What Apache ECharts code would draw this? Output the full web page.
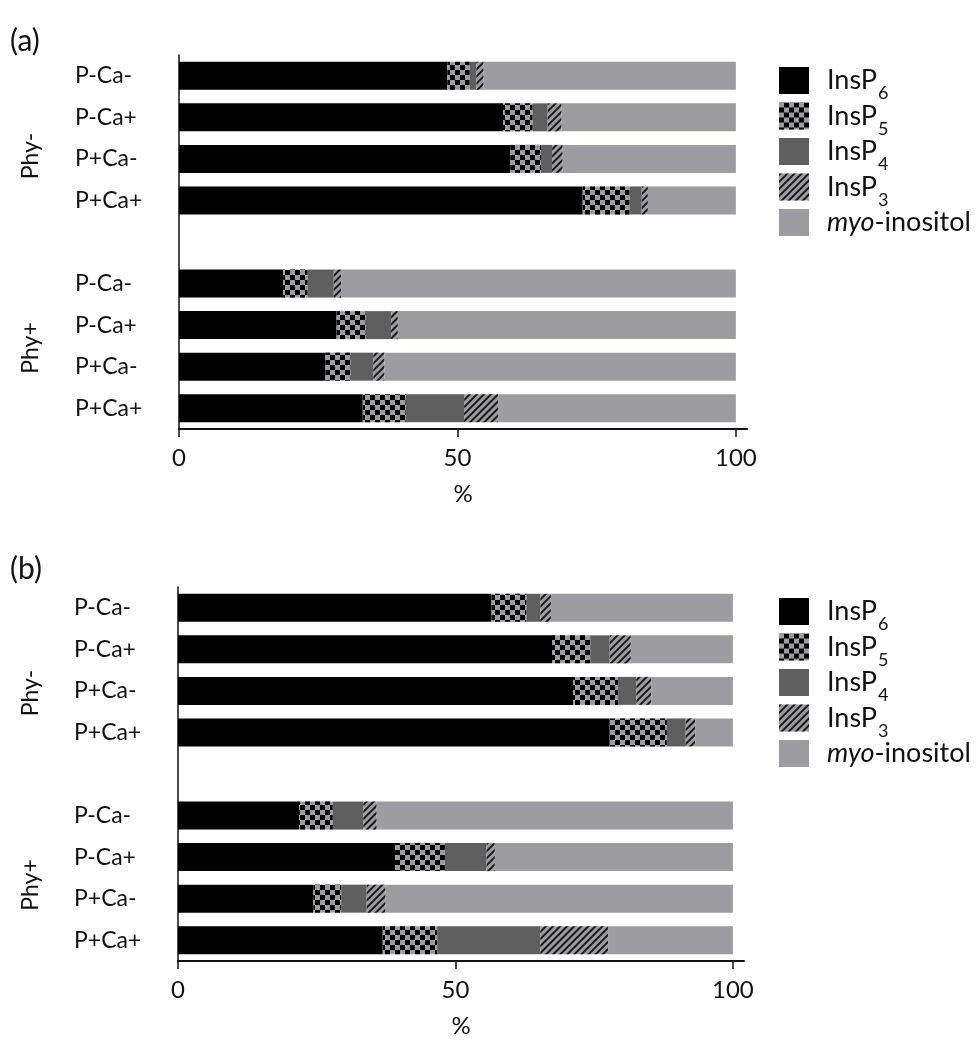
<!DOCTYPE html>
<html>
<head>
<meta charset="utf-8">
<script src="https://cdn.jsdelivr.net/npm/echarts@6/dist/echarts.min.js"></script>
<style>
  html, body { margin: 0; background: #fff; }
  #main { width: 978px; height: 1042px; }
</style>
</head>
<body>
<div id="main"></div>
<script>
// rows top to bottom, '' is the spacer between the Phy- and Phy+ groups
const categories = ['P-Ca-', 'P-Ca+', 'P+Ca-', 'P+Ca+', '', 'P-Ca-', 'P-Ca+', 'P+Ca-', 'P+Ca+']
const groupLabels = ['Phy-', 'Phy+']
const seriesNames = ['InsP6', 'InsP5', 'InsP4', 'InsP3', 'myo-inositol']
const xTicks = [0, 50, 100]

// panel (a), % of total
const aInsP6 = [48.2, 58.2, 59.5, 72.5, '-', 18.7, 28.3, 26.3, 33.0]
const aInsP5 = [4.0, 5.3, 5.5, 8.4, '-', 4.4, 5.2, 4.5, 7.7]
const aInsP4 = [1.2, 2.7, 2.0, 2.2, '-', 4.7, 4.6, 4.1, 10.5]
const aInsP3 = [1.3, 2.5, 1.9, 1.1, '-', 1.3, 1.2, 2.0, 6.1]
const aMyo = [45.3, 31.3, 31.1, 15.8, '-', 70.9, 60.7, 63.1, 42.7]

// panel (b), % of total
const bInsP6 = [56.5, 67.4, 71.2, 77.8, '-', 21.8, 39.1, 24.4, 36.9]
const bInsP5 = [6.3, 6.9, 8.1, 10.3, '-', 6.1, 9.0, 5.0, 9.8]
const bInsP4 = [2.5, 3.5, 3.3, 3.4, '-', 5.5, 7.5, 4.6, 18.6]
const bInsP3 = [1.9, 3.8, 2.7, 1.7, '-', 2.4, 1.5, 3.4, 12.2]
const bMyo = [32.8, 18.4, 14.7, 6.8, '-', 64.2, 42.9, 62.6, 22.5]

const font = 'Lato'
const ink = '#111'
const lightGray = '#9d9da1'

const styles = [
  { color: '#000' },
  { color: lightGray, decal: { symbol: 'rect', symbolSize: 1, color: '#000', dashArrayX: [[5, 5], [0, 5, 5, 0]], dashArrayY: [5, 0] } },
  { color: '#5f5f5f' },
  { color: lightGray, decal: { symbol: 'rect', symbolSize: 1, color: '#1a1a1a', dashArrayX: [1, 0], dashArrayY: [1.6, 2.6], rotation: -Math.PI / 4 } },
  { color: lightGray }
]

const legendLabel = {
  'InsP6': '{g|}{a|InsP}{s|6}',
  'InsP5': '{g|}{a|InsP}{s|5}',
  'InsP4': '{g|}{a|InsP}{s|4}',
  'InsP3': '{g|}{a|InsP}{s|3}',
  'myo-inositol': '{g|}{i|myo}{a|-inositol}'
}

function makeLegend (top) {
  return {
    orient: 'vertical',
    left: 774,
    top: top,
    icon: 'rect',
    itemWidth: 30,
    itemHeight: 27,
    itemGap: 0,
    data: seriesNames,
    formatter: name => legendLabel[name],
    textStyle: {
      rich: {
        g: { width: 13, height: 22 },
        a: { fontFamily: font, fontSize: 27, color: ink, height: 22, lineHeight: 22, padding: [0, 0, 9, 0], verticalAlign: 'top' },
        i: { fontFamily: font, fontSize: 27, color: ink, height: 22, lineHeight: 22, padding: [0, 0, 9, 0], verticalAlign: 'top', fontStyle: 'italic' },
        s: { fontFamily: font, fontSize: 18, color: ink, lineHeight: 14, padding: [15, 0, 0, 1], verticalAlign: 'top' }
      }
    }
  }
}

function makeXAxis (gridIndex) {
  return {
    type: 'value',
    gridIndex: gridIndex,
    min: 0,
    max: 102,
    name: '%',
    nameLocation: 'middle',
    nameGap: 53,
    nameTextStyle: { fontFamily: font, fontSize: 24, color: ink },
    splitLine: { show: false },
    axisLine: { show: true, lineStyle: { color: ink, width: 2 } },
    axisTick: { show: true, length: 8, customValues: xTicks, lineStyle: { color: ink, width: 1.5 } },
    axisLabel: { customValues: xTicks, margin: 17, fontFamily: font, fontSize: 24, color: ink }
  }
}

function makeYAxis (gridIndex) {
  return {
    type: 'category',
    gridIndex: gridIndex,
    data: categories,
    inverse: true,
    axisLine: { show: true, lineStyle: { color: ink, width: 1.5 } },
    axisTick: { show: false },
    axisLabel: { align: 'left', margin: 104, fontFamily: font, fontSize: 23, color: ink }
  }
}

const panelData = [
  [aInsP6, aInsP5, aInsP4, aInsP3, aMyo],
  [bInsP6, bInsP5, bInsP4, bInsP3, bMyo]
]

const series = []
panelData.forEach((rows, p) => {
  rows.forEach((values, i) => {
    series.push({
      name: seriesNames[i],
      type: 'bar',
      stack: 'panel' + p,
      xAxisIndex: p,
      yAxisIndex: p,
      barWidth: 28,
      silent: true,
      itemStyle: styles[i],
      data: values
    })
  })
})

function sideText (text, x, y, rotate, size) {
  return {
    type: 'text',
    x: x,
    y: y,
    rotation: rotate ? Math.PI / 2 : 0,
    style: {
      text: text,
      fontFamily: font,
      fontSize: size,
      fill: ink,
      align: rotate ? 'center' : 'left',
      verticalAlign: 'middle'
    }
  }
}

const chart = echarts.init(document.getElementById('main'))
chart.setOption({
  backgroundColor: '#fff',
  animation: false,
  grid: [
    { left: 179, top: 55, width: 568, height: 374 },
    { left: 178, top: 587, width: 566, height: 374 }
  ],
  legend: [makeLegend(62), makeLegend(593)],
  xAxis: [makeXAxis(0), makeXAxis(1)],
  yAxis: [makeYAxis(0), makeYAxis(1)],
  graphic: [
    sideText('(a)', 10, 41, false, 30),
    sideText('(b)', 10, 569, false, 30),
    sideText(groupLabels[0], 31, 156, true, 23),
    sideText(groupLabels[1], 31, 348, true, 23),
    sideText(groupLabels[0], 31, 693, true, 23),
    sideText(groupLabels[1], 31, 885, true, 23)
  ],
  series: series
})
</script>
</body>
</html>
